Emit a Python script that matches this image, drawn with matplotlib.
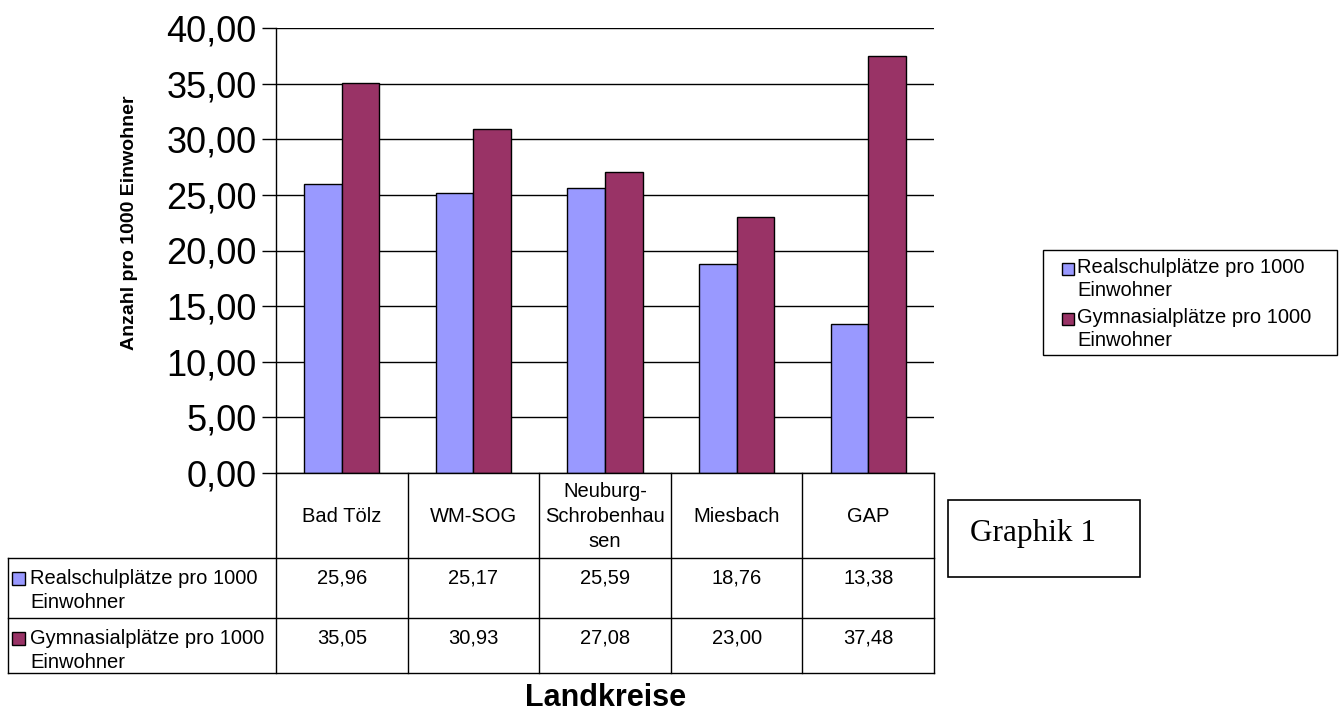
import numpy as np
import matplotlib
matplotlib.use("Agg")
import matplotlib.pyplot as plt
from matplotlib.ticker import FuncFormatter, MultipleLocator
from matplotlib.patches import Rectangle

plt.rcParams['font.family'] = ['Liberation Sans', 'DejaVu Sans']

categories = ["Bad Tölz", "WM-SOG", "Neuburg-\nSchrobenhau\nsen", "Miesbach", "GAP"]
series_names = ["Realschulplätze pro 1000\nEinwohner", "Gymnasialplätze pro 1000\nEinwohner"]
real = [25.96, 25.17, 25.59, 18.76, 13.38]
gym = [35.05, 30.93, 27.08, 23.00, 37.48]
colors = ["#9999FF", "#993366"]

W, H = 1340, 713
fig = plt.figure(figsize=(W / 100, H / 100), dpi=100)

# plot area in pixel coords
L, R, T, B = 276, 934, 28, 473
ax = fig.add_axes([L / W, 1 - B / H, (R - L) / W, (B - T) / H])
x = np.arange(len(categories))
w = 0.285
b1 = ax.bar(x - w / 2, real, w, color=colors[0], edgecolor="black", linewidth=1, zorder=3)
b2 = ax.bar(x + w / 2, gym, w, color=colors[1], edgecolor="black", linewidth=1, zorder=3)
ax.set_xlim(-0.5, len(categories) - 0.5)
ax.set_ylim(0, 40)
ax.yaxis.set_major_locator(MultipleLocator(5))
ax.yaxis.set_major_formatter(FuncFormatter(lambda v, p: f"{v:.2f}".replace(".", ",")))
ax.grid(axis="y", color="black", linewidth=1, zorder=0)
ax.set_xticks([])
for s in ["top", "right", "bottom"]:
    ax.spines[s].set_visible(False)
ax.spines["left"].set_linewidth(1)
ax.tick_params(axis="y", direction="out", length=10, width=1, labelsize=26, pad=4)
ax.set_ylabel("Anzahl pro 1000 Einwohner", fontsize=14, fontweight="bold")
ax.yaxis.set_label_coords((138 - L) / (R - L), (B - 223) / (B - T))

# overlay for table & annotations, pixel coordinates
ov = fig.add_axes([0, 0, 1, 1], zorder=5)
ov.set_xlim(0, W)
ov.set_ylim(H, 0)
ov.axis("off")
ov.patch.set_alpha(0)

col_edges = np.linspace(L, R, len(categories) + 1)
y0, y1, y2, y3 = B, 558, 618, 673
tl = 8
lw = 1
fs = 14.5
# horizontal lines
ov.plot([L, R], [y0, y0], color="black", lw=lw)
for yy in (y1, y2, y3):
    ov.plot([tl, R], [yy, yy], color="black", lw=lw)
# vertical lines
for xe in col_edges:
    ov.plot([xe, xe], [y0, y3], color="black", lw=lw)
ov.plot([tl, tl], [y1, y3], color="black", lw=lw)

centers = (col_edges[:-1] + col_edges[1:]) / 2
for cx, cat in zip(centers, categories):
    ov.text(cx, (y0 + y1) / 2 + 1, cat, ha="center", va="center", fontsize=fs, linespacing=1.4)

rows = [real, gym]
row_tops = [y1, y2]
for vals, top, name, col in zip(rows, row_tops, series_names, colors):
    ov.add_patch(Rectangle((12, top + 14), 13, 13, facecolor=col, edgecolor="black", lw=1))
    ov.text(30, top + 11, name, ha="left", va="top", fontsize=fs, linespacing=1.32)
    for cx, v in zip(centers, vals):
        ov.text(cx, top + 11, f"{v:.2f}".replace(".", ","), ha="center", va="top", fontsize=fs)

# Graphik 1 box
ov.add_patch(Rectangle((948, 500), 192, 77, facecolor="white", edgecolor="black", lw=1.2))
ov.text(970, 534, "Graphik 1", ha="left", va="center", fontsize=22.5, family="Liberation Serif")

# Landkreise
ov.text(606, 698, "Landkreise", ha="center", va="center", fontsize=22, fontweight="bold")

# legend (drawn in pixel coordinates)
ov.add_patch(Rectangle((1043, 250), 294, 105, facecolor="white", edgecolor="black", lw=1))
for i, (name, col) in enumerate(zip(series_names, colors)):
    ty = 258 + i * 50
    ov.add_patch(Rectangle((1062, ty + 5), 12, 12, facecolor=col, edgecolor="black", lw=1))
    ov.text(1077, ty, name, ha="left", va="top", fontsize=fs, linespacing=1.25)

fig.savefig("out.png", dpi=100)
